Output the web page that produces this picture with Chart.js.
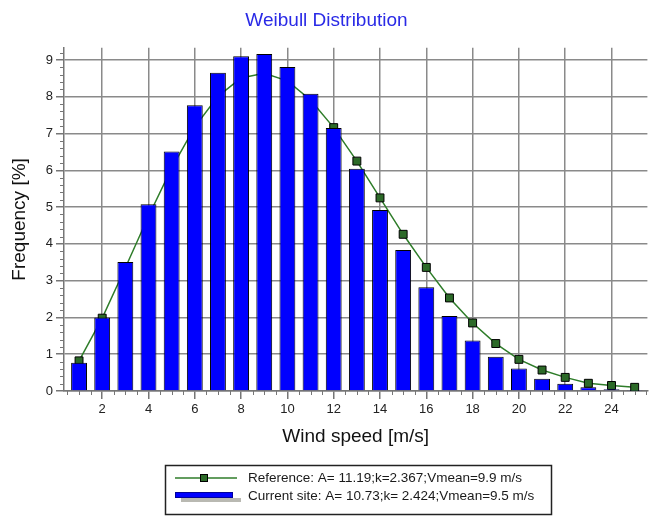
<!DOCTYPE html>
<html>
<head>
<meta charset="utf-8">
<title>Weibull Distribution</title>
<script src="https://cdn.jsdelivr.net/npm/chart.js@4.4.1/dist/chart.umd.min.js"></script>
<style>
  html, body { margin: 0; padding: 0; background: #ffffff; }
  #chart { display: block; }
</style>
</head>
<body>
<canvas id="chart" width="654" height="516"></canvas>
<script>
// Wind speed bins [m/s]
const windSpeeds = [1, 2, 3, 4, 5, 6, 7, 8, 9, 10, 11, 12, 13, 14, 15, 16, 17, 18, 19, 20, 21, 22, 23, 24, 25];

// Reference Weibull curve, frequency [%] per bin
const referenceFreq = [0.82, 1.98, 3.35, 4.75, 6.06, 7.18, 8.01, 8.51, 8.64, 8.43, 7.91, 7.16, 6.25, 5.25,
                       4.26, 3.36, 2.53, 1.85, 1.29, 0.86, 0.57, 0.37, 0.21, 0.15, 0.10];

// Measured distribution at the current site, frequency [%] per bin
const currentSiteFreq = [0.77, 2.00, 3.51, 5.08, 6.51, 7.77, 8.65, 9.10, 9.16, 8.81, 8.08, 7.15, 6.04, 4.92,
                         3.83, 2.82, 2.04, 1.37, 0.93, 0.61, 0.33, 0.20, 0.10, 0.05, 0.03];

// Labelled ticks
const xTickValues = [2, 4, 6, 8, 10, 12, 14, 16, 18, 20, 22, 24];
const yTickValues = [0, 1, 2, 3, 4, 5, 6, 7, 8, 9];

const referenceLabel = 'Reference: A= 11.19;k=2.367;Vmean=9.9 m/s';
const currentLabel = 'Current site: A= 10.73;k= 2.424;Vmean=9.5 m/s';

const FONT = '"Liberation Sans", Arial, Helvetica, sans-serif';
const GRID = '#8a8a8a';
const AXIS = '#767676';
const LINE_GREEN = '#2f7d2a';
const MARK_GREEN = '#2c6a28';
const BAR_BLUE = '#0000ff';

// Minor tick marks plus the framed legend underneath the plot
const extrasPlugin = {
  id: 'extras',
  afterDraw(chart) {
    const { ctx, chartArea, scales } = chart;
    const x = scales.x, y = scales.y;
    ctx.save();
    ctx.strokeStyle = AXIS;
    ctx.lineWidth = 1;
    // x minor ticks every 0.5 m/s
    for (let k = 1; k <= 51; k++) {
      const v = k * 0.5;
      if (v < x.min || v > x.max || (v % 2 === 0 && v <= 24)) continue;
      const px = Math.round(x.getPixelForValue(v)) + 0.5;
      ctx.beginPath();
      ctx.moveTo(px, chartArea.bottom);
      ctx.lineTo(px, chartArea.bottom + 4);
      ctx.stroke();
    }
    // y minor ticks every 0.2 %
    for (let k = 1; k <= 46; k++) {
      if (k % 5 === 0) continue;
      const v = k * 0.2;
      if (v > y.max) break;
      const py = Math.round(y.getPixelForValue(v)) + 0.5;
      ctx.beginPath();
      ctx.moveTo(chartArea.left - 4, py);
      ctx.lineTo(chartArea.left, py);
      ctx.stroke();
    }

    // legend frame
    const bx = 165.5, by = 465.5, bw = 386, bh = 49;
    ctx.fillStyle = '#ffffff';
    ctx.fillRect(bx, by, bw, bh);
    ctx.strokeStyle = '#222';
    ctx.lineWidth = 1.5;
    ctx.strokeRect(bx, by, bw, bh);

    // reference entry: line with square marker
    const r1 = 478, r2 = 496;
    ctx.strokeStyle = LINE_GREEN;
    ctx.lineWidth = 1.5;
    ctx.beginPath();
    ctx.moveTo(175, r1);
    ctx.lineTo(237, r1);
    ctx.stroke();
    ctx.fillStyle = MARK_GREEN;
    ctx.fillRect(200, r1 - 4, 8, 8);
    ctx.strokeStyle = '#000';
    ctx.lineWidth = 1;
    ctx.strokeRect(200.5, r1 - 3.5, 7, 7);

    // current site entry: thick bar with a soft shadow
    ctx.fillStyle = '#b9b9b2';
    ctx.fillRect(181, r2 + 2, 60, 4);
    ctx.fillStyle = BAR_BLUE;
    ctx.fillRect(175, r2 - 4, 58, 6);
    ctx.strokeStyle = '#00009a';
    ctx.strokeRect(175.5, r2 - 3.5, 57, 5);

    ctx.fillStyle = '#1a1a1a';
    ctx.font = '13.5px ' + FONT;
    ctx.textBaseline = 'middle';
    ctx.textAlign = 'left';
    ctx.fillText(referenceLabel, 248, r1);
    ctx.fillText(currentLabel, 248, r2);
    ctx.restore();
  }
};

new Chart(document.getElementById('chart'), {
  type: 'bar',
  data: {
    datasets: [
      {
        type: 'line',
        label: referenceLabel,
        data: windSpeeds.map((v, i) => ({ x: v, y: referenceFreq[i] })),
        borderColor: LINE_GREEN,
        borderWidth: 1.5,
        tension: 0,
        pointStyle: 'rect',
        pointRadius: 5.6,
        pointBackgroundColor: MARK_GREEN,
        pointBorderColor: '#000000',
        pointBorderWidth: 1,
        order: 2
      },
      {
        type: 'bar',
        label: currentLabel,
        data: windSpeeds.map((v, i) => ({ x: v, y: currentSiteFreq[i] })),
        backgroundColor: BAR_BLUE,
        borderColor: '#000000',
        borderWidth: 1,
        barPercentage: 0.685,
        categoryPercentage: 1,
        order: 1
      }
    ]
  },
  options: {
    responsive: false,
    animation: false,
    devicePixelRatio: 1,
    layout: { padding: { left: 0, right: 1, top: 0, bottom: 65 } },
    plugins: {
      legend: { display: false },
      tooltip: { enabled: false },
      title: {
        display: true,
        text: 'Weibull Distribution',
        color: '#2a2ae6',
        font: { family: FONT, size: 19, weight: 'normal' },
        padding: { top: 9, bottom: 16 }
      }
    },
    scales: {
      x: {
        type: 'linear',
        min: 0.35,
        max: 25.55,
        offset: false,
        afterBuildTicks: (s) => { s.ticks = xTickValues.map(v => ({ value: v })); },
        afterFit: (s) => { s.height = 60; },
        grid: { offset: false, color: GRID, lineWidth: 1.5, tickLength: 8, tickColor: AXIS, tickWidth: 1.5 },
        border: { color: AXIS, width: 1.5 },
        ticks: {
          color: '#222', font: { family: FONT, size: 13 }, padding: 3,
          maxRotation: 0, autoSkip: false, callback: (v) => String(v)
        },
        title: {
          display: true, text: 'Wind speed [m/s]', color: '#111',
          font: { family: FONT, size: 19 }, padding: { top: 0, bottom: 3 }
        }
      },
      y: {
        type: 'linear',
        min: 0,
        max: 9.33,
        afterBuildTicks: (s) => { s.ticks = yTickValues.map(v => ({ value: v })); },
        afterFit: (s) => { s.width = 64; },
        grid: { color: GRID, lineWidth: 1.5, tickLength: 8, tickColor: AXIS, tickWidth: 1.5 },
        border: { color: AXIS, width: 1.5 },
        ticks: { color: '#222', font: { family: FONT, size: 13 }, padding: 3, callback: (v) => String(v) },
        title: {
          display: true, text: 'Frequency [%]', color: '#111',
          font: { family: FONT, size: 19 }, padding: { top: 8, bottom: 0 }
        }
      }
    }
  },
  plugins: [extrasPlugin]
});
</script>
</body>
</html>
